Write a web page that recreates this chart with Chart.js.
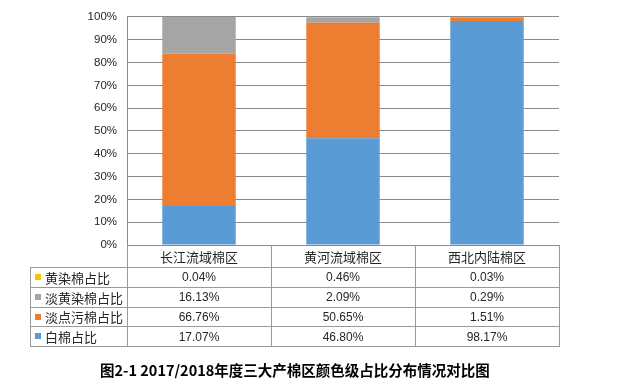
<!DOCTYPE html>
<html>
<head>
<meta charset="utf-8">
<script src="https://cdn.jsdelivr.net/npm/chart.js@4.4.1/dist/chart.umd.min.js"></script>
<style>
  html, body { margin: 0; padding: 0; background: #fff; }
  canvas { display: block; }
</style>
</head>
<body>
<canvas id="colorChart" width="630" height="388"></canvas>
<script>
// ── Data ──────────────────────────────────────────────────
const categories   = ['长江流域棉区', '黄河流域棉区', '西北内陆棉区'];
const seriesNames  = ['白棉占比', '淡点污棉占比', '淡黄染棉占比', '黄染棉占比'];
const whiteCotton  = [17.07, 46.80, 98.17];
const spotCotton   = [66.76, 50.65, 1.51];
const lightYellow  = [16.13, 2.09, 0.29];
const yellowStain  = [0.04, 0.46, 0.03];
const yTickValues  = [0, 10, 20, 30, 40, 50, 60, 70, 80, 90, 100];
const chartTitle   = '图2-1 2017/2018年度三大产棉区颜色级占比分布情况对比图';

const COLORS = {
  white:  '#5B9BD5',
  spot:   '#ED7D31',
  light:  '#A5A5A5',
  yellow: '#FFC000',
  grid:   '#8a8a8a',
  table:  '#9a9a9a',
  text:   '#262626'
};

const FONT_CJK  = "'Noto Sans CJK SC', 'Noto Sans', sans-serif";
const FONT_NUM  = "'Liberation Sans', Arial, sans-serif";

const seriesData   = [whiteCotton, spotCotton, lightYellow, yellowStain];
const seriesColors = [COLORS.white, COLORS.spot, COLORS.light, COLORS.yellow];

// ── Data table under the plot ─────────────────────────────
const dataTable = {
  id: 'dataTable',
  afterDraw(chart) {
    const ctx  = chart.ctx;
    const area = chart.chartArea;
    const xs   = chart.scales.x;
    const colW = (area.right - area.left) / categories.length;
    const headTop    = area.bottom;
    const headBottom = headTop + 22;
    const rowH       = 19.8;
    const tableLeft  = 30;
    const rowOrder   = [3, 2, 1, 0];   // table lists the top of the stack first
    const tableBottom = headBottom + rowOrder.length * rowH;

    ctx.save();
    ctx.strokeStyle = COLORS.table;
    ctx.lineWidth = 1;
    ctx.beginPath();
    for (let i = 0; i <= categories.length; i++) {
      const px = Math.round(area.left + i * colW) + 0.5;
      ctx.moveTo(px, headTop);
      ctx.lineTo(px, tableBottom);
    }
    ctx.moveTo(tableLeft + 0.5, headBottom);
    ctx.lineTo(tableLeft + 0.5, tableBottom);
    for (let r = 0; r <= rowOrder.length; r++) {
      const py = Math.round(headBottom + r * rowH) + 0.5;
      ctx.moveTo(tableLeft, py);
      ctx.lineTo(Math.round(area.right) + 1, py);
    }
    ctx.stroke();

    // header
    ctx.fillStyle = COLORS.text;
    ctx.textAlign = 'center';
    ctx.textBaseline = 'middle';
    ctx.font = '13px ' + FONT_CJK;
    categories.forEach((c, i) => {
      ctx.fillText(c, xs.getPixelForValue(i), (headTop + headBottom) / 2 + 1);
    });

    // rows
    rowOrder.forEach((s, r) => {
      const cy = headBottom + r * rowH + rowH / 2;
      ctx.fillStyle = seriesColors[s];
      ctx.fillRect(35, Math.round(cy) - 3, 6, 6);
      ctx.fillStyle = COLORS.text;
      ctx.textAlign = 'left';
      ctx.font = '13px ' + FONT_CJK;
      ctx.fillText(seriesNames[s], 45, cy + 1);
      ctx.textAlign = 'center';
      ctx.font = '12px ' + FONT_NUM;
      seriesData[s].forEach((v, i) => {
        ctx.fillText(v.toFixed(2) + '%', xs.getPixelForValue(i), cy + 1);
      });
    });

    // caption
    ctx.fillStyle = '#000';
    ctx.textAlign = 'left';
    ctx.font = 'bold 14.5px ' + FONT_CJK;
    ctx.fillText(chartTitle, 100, 370);
    ctx.restore();
  }
};

new Chart(document.getElementById('colorChart'), {
  type: 'bar',
  data: {
    labels: categories,
    datasets: seriesData.map((d, i) => ({
      label:           seriesNames[i],
      data:            d,
      backgroundColor: seriesColors[i],
      borderWidth:     0,
      barPercentage:   0.51,
      categoryPercentage: 1
    }))
  },
  options: {
    responsive: false,
    animation:  false,
    layout: { padding: { left: 0, right: 71, top: 13, bottom: 143 } },
    plugins: {
      legend:  { display: false },
      tooltip: { enabled: false }
    },
    scales: {
      x: {
        stacked: true,
        display: false
      },
      y: {
        stacked: true,
        min: 0,
        max: 100,
        afterFit: s => { s.width = 127; },
        afterBuildTicks: s => { s.ticks = yTickValues.map(v => ({ value: v })); },
        grid:   { color: COLORS.grid, drawTicks: false },
        border: { display: true, color: COLORS.grid },
        ticks: {
          padding: 10,
          color: COLORS.text,
          font: { family: FONT_NUM, size: 11.5 },
          callback: v => v + '%'
        }
      }
    }
  },
  plugins: [dataTable]
});
</script>
</body>
</html>
